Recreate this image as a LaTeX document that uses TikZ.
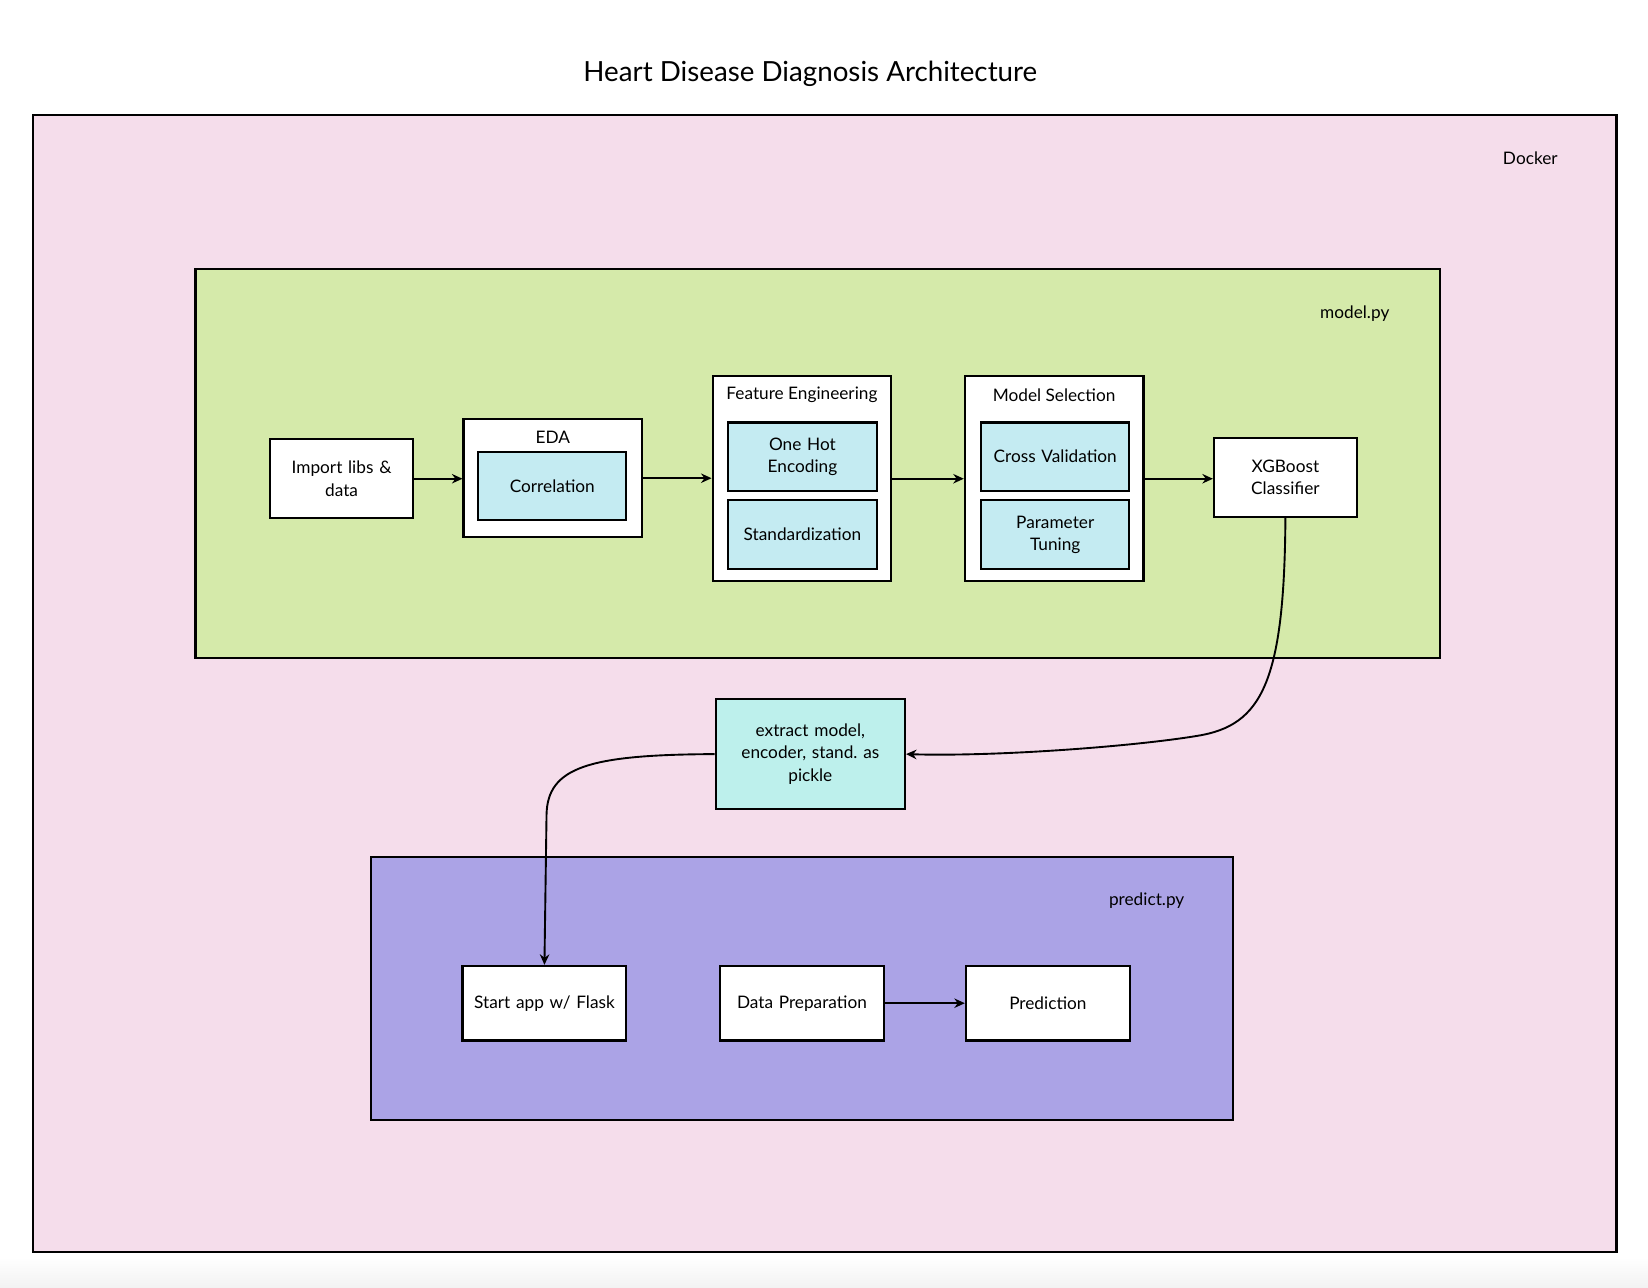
\documentclass[tikz,border=0pt]{standalone}
\usepackage{fontspec}
\setmainfont{Lato}
\usetikzlibrary{arrows.meta}
\frenchspacing

\definecolor{dockerpink}{HTML}{F5DDEB}
\definecolor{modelgreen}{HTML}{D5EAAA}
\definecolor{steplight}{HTML}{C4EBF2}
\definecolor{picklecyan}{HTML}{BDF0EC}
\definecolor{predictpurple}{HTML}{ABA3E6}

\begin{document}
\begin{tikzpicture}[
  x = 0.5pt, y = -0.5pt,
  frame/.style = {
    shape = rectangle,
    draw = black,
    line width = 1pt,
    inner sep = 0pt,
  },
  box/.style = {
    shape = rectangle,
    draw = black,
    fill = white,
    line width = 1pt,
    align = center,
    font = \fontsize{8.2}{10.5}\selectfont,
    text width = 62pt,
    inner sep = 0pt,
  },
  innerbox/.style = {
    box,
    fill = steplight,
    minimum width = 70.5pt,
    minimum height = 32.5pt,
  },
  label/.style = {
    font = \fontsize{8.2}{10.5}\selectfont,
  }
]
  \useasboundingbox (0, 0) rectangle (1568, 1225);
  \shade[top color = white, bottom color = black!5] (0, 1196) rectangle (1568, 1225);

  % frames
  \node[frame, fill = dockerpink, minimum width = 753.5pt, minimum height = 541pt] (docker) at (784.5, 650) {};
  \node[frame, fill = modelgreen, minimum width = 592pt, minimum height = 185pt] (model) at (778, 441) {};
  \node[frame, fill = predictpurple, minimum width = 410pt, minimum height = 125.5pt] (predict) at (763, 940.5) {};

  \node[font = \fontsize{13.2}{15}\selectfont] (title) at (771, 70) {Heart Disease Diagnosis Architecture};
  \node[label] (dockerlabel) at (1456, 151) {Docker};
  \node[label] (modellabel) at (1289, 298) {model.py};
  \node[label] (predictlabel) at (1091, 857) {predict.py};

  % model.py
  \node[box, minimum width = 68pt, minimum height = 37.5pt] (import) at (325, 455.5) {Import libs \&\\data};

  \node[box, minimum width = 85pt, minimum height = 56pt] (eda) at (526, 455) {};
  \node[label] at (526, 416) {EDA};
  \node[innerbox] (corr) at (525.5, 462.5) {Correlation};

  \node[box, minimum width = 85pt, minimum height = 97.5pt] (feature) at (763, 455.5) {};
  \node[label] at (763, 376) {Feature Engineering};
  \node[innerbox] (onehot) at (763.5, 434.5) {One Hot\\Encoding};
  \node[innerbox] (stand) at (763.5, 508.5) {Standardization};

  \node[box, minimum width = 85pt, minimum height = 97.5pt] (select) at (1003, 455.5) {};
  \node[label] at (1003, 376) {Model Selection};
  \node[innerbox] (crossval) at (1004, 434.5) {Cross Validation};
  \node[innerbox] (tuning) at (1004, 508.5) {Parameter\\Tuning};

  \node[box, minimum width = 68pt, minimum height = 37.5pt] (xgb) at (1223, 454.5) {XGBoost\\Classifier};

  % pickle
  \node[box, fill = picklecyan, minimum width = 90pt, minimum height = 52.5pt, text width = 70pt] (pickle) at (771, 717.5) {extract model,\\encoder, stand. as\\pickle};

  % predict.py
  \node[box, minimum width = 78pt, minimum height = 35.5pt, text width = 76pt] (flask) at (518, 954.5) {Start app w/ Flask};
  \node[box, minimum width = 78pt, minimum height = 35.5pt, text width = 76pt] (prep) at (763, 954.5) {Data Preparation};
  \node[box, minimum width = 78pt, minimum height = 35.5pt] (pred) at (997, 954.5) {Prediction};

  \begin{scope}[
    every path/.style = {-{Stealth[length = 5pt, width = 4.5pt]}, line width = 0.9pt}
  ]
    \draw (import.east) -- (eda.west |- import.east);
    \draw (eda.east) -- (feature.west |- eda.east);
    \draw (feature.east) -- (select.west);
    \draw (select.east) -- (xgb.west |- select.east);
    \draw (prep.east) -- (pred.west);

    \draw (xgb.south) .. controls (1222, 650) and (1200, 690) .. (1140, 700)
      .. controls (1080, 710) and (950, 720) .. (pickle.east);
    \draw (pickle.west) .. controls (560, 718) and (521, 730) .. (520, 775) -- (flask.north);
  \end{scope}
\end{tikzpicture}
\end{document}
